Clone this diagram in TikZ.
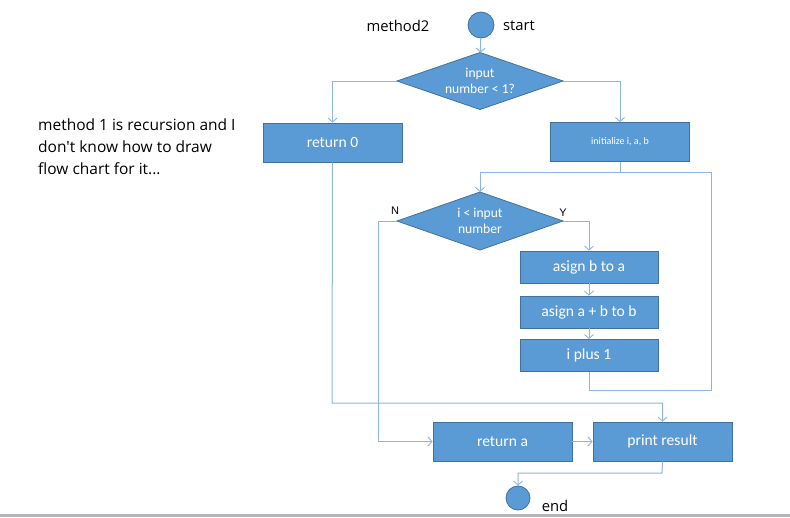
\documentclass[tikz,border=0pt]{standalone}
\usepackage{fontspec}
\setmainfont{Carlito}
\newfontfamily\arialf{Liberation Sans}
\newfontfamily\notef{Open Sans}
\usetikzlibrary{shapes.geometric,arrows.meta}
\definecolor{boxfill}{RGB}{91,155,213}
\definecolor{boxdraw}{RGB}{65,113,156}
\definecolor{linec}{RGB}{140,182,228}
\definecolor{barc}{RGB}{180,180,186}
\begin{document}
\begin{tikzpicture}[x=1pt,y=-1pt,
  box/.style={rectangle,draw=boxdraw,fill=boxfill,line width=0.8pt,minimum width=139pt,minimum height=39pt,inner sep=0pt,text=white,font=\fontsize{15.6}{18}\selectfont},
  sbox/.style={box,minimum height=32pt,minimum width=138pt},
  dec/.style={diamond,draw=boxdraw,fill=boxfill,line width=0.8pt,minimum width=166pt,minimum height=57pt,inner sep=0pt,outer sep=0pt},
  dtext/.style={text=white,align=center,font=\fontsize{13.6}{15.5}\selectfont},
  term/.style={circle,draw=boxdraw,fill=boxfill,line width=0.8pt,inner sep=0pt},
  conn/.style={draw=linec,line width=1pt,-{Straight Barb[length=4pt,width=9pt,line width=0.9pt]}},
  plain/.style={draw=linec,line width=1pt},
  lbl/.style={font=\notef\fontsize{14.8}{18}\selectfont,text=black},
  yn/.style={font=\arialf\fontsize{11}{13}\selectfont,text=black}
]
\useasboundingbox (0,0) rectangle (790,517);
\fill[barc] (0,514) rectangle (790,517);

% texts
\node[lbl] (m2) at (398,26) {method2};
\node[lbl] (st) at (519,26) {start};
\node[lbl] (en) at (555,506) {end};
\node[lbl,anchor=north west,align=left,inner sep=0pt,font=\notef\fontsize{15.5}{22}\selectfont] (note) at (38,119)
  {method 1 is recursion and I\\don't know how to draw\\flow chart for it...};

% nodes
\node[term,minimum size=26pt] (start) at (481,25) {};
\node[dec] (d1) at (480,81) {};
\node[dtext] (d1t) at (480,81) {input\\number < 1?};
\node[box] (ret0) at (332.5,142.5) {return 0};
\node[box,font=\fontsize{10}{12}\selectfont] (init) at (620,142) {initialize i, a, b};
\node[dec,minimum height=58pt] (d2) at (480,221) {};
\node[dtext] (d2t) at (480,221) {i < input\\number};
\node[yn] (nl) at (395,211) {N};
\node[yn] (yl) at (563,213) {Y};
\node[sbox] (b2a) at (589,267) {asign b to a};
\node[sbox] (ab) at (589,312) {asign a + b to b};
\node[sbox] (inc) at (589,355.5) {i plus 1};
\node[box] (reta) at (502.5,441.5) {return a};
\node[box] (print) at (662.5,441.5) {print result};
\node[term,minimum size=24pt] (end) at (518,498) {};

% connectors
\draw[conn] (start) -- (d1);
\draw[conn] (d1.west) -| (ret0.north);
\draw[conn] (d1.east) -| (init.north);
\coordinate (j1) at (620,172);
\draw[plain] (init.south) -- (j1);
\draw[conn] (j1) -| (d2.north);
\coordinate (lp1) at (589,390);
\coordinate (lp2) at (711,390);
\coordinate (lp3) at (711,172);
\draw[plain] (inc.south) -- (lp1) -- (lp2) -- (lp3) -- (j1);
\coordinate (nb) at (378,221);
\draw[conn] (d2.west) -- (nb) |- (reta.west);
\draw[conn] (d2.east) -| (b2a.north);
\draw[conn] (b2a) -- (ab);
\draw[conn] (ab) -- (inc);
\coordinate (r0b) at (332,403);
\draw[conn] (ret0.south) -- (r0b) -| (print.north);
\draw[conn] (reta) -- (print);
\coordinate (pb) at (662,473);
\draw[conn] (print.south) -- (pb) -| (end.north);
\end{tikzpicture}
\end{document}
